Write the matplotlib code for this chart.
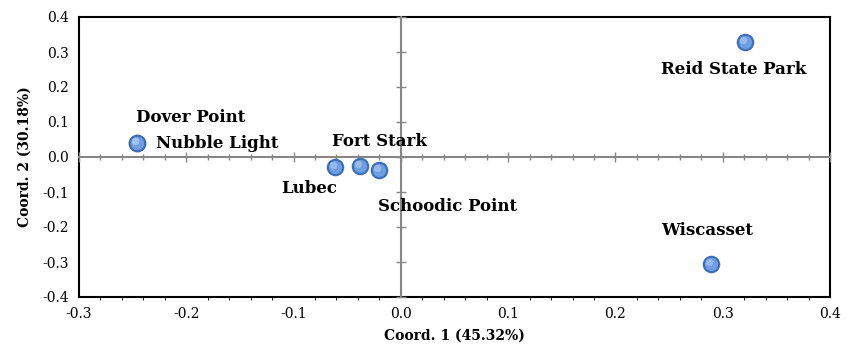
import matplotlib
matplotlib.use("Agg")
import matplotlib.pyplot as plt
from matplotlib.ticker import MultipleLocator, NullLocator

# site coordinates
sites = ["Reid State Park", "Wiscasset", "Dover Point", "Nubble Light",
         "Lubec", "Fort Stark", "Schoodic Point"]
coord1 = [0.321, 0.289, -0.246, -0.246, -0.061, -0.038, -0.020]
coord2 = [0.329, -0.306, 0.040, 0.040, -0.029, -0.026, -0.037]

# label offsets in pixels from each point, and alignment
label_pos = {
    "Reid State Park": (-12, -28, "center"),
    "Wiscasset": (-4, 34, "center"),
    "Dover Point": (-1, 25, "left"),
    "Nubble Light": (19, 0, "left"),
    "Lubec": (-54, -21, "left"),
    "Fort Stark": (-28, 25, "left"),
    "Schoodic Point": (-1, -37, "left"),
}

plt.rcParams["font.family"] = "DejaVu Serif"

fig = plt.figure(figsize=(8.56, 3.56), dpi=100)
rect = [79 / 856, 1 - 297 / 356, (830 - 79) / 856, (297 - 17) / 356]

# background axes: black frame + tick labels on the edges
ax = fig.add_axes(rect)
ax.set_xlim(-0.3, 0.4)
ax.set_ylim(-0.4, 0.4)
ax.xaxis.set_major_locator(MultipleLocator(0.1))
ax.yaxis.set_major_locator(MultipleLocator(0.1))
ax.xaxis.set_major_formatter(lambda v, p: f"{v:.1f}" if abs(v) > 1e-9 else "0.0")
ax.yaxis.set_major_formatter(lambda v, p: f"{v:.1f}" if abs(v) > 1e-9 else "0.0")
ax.tick_params(length=0, labelsize=10, pad=7)
for s in ax.spines.values():
    s.set_linewidth(1.5)
    s.set_color("black")
ax.set_xlabel("Coord. 1 (45.32%)", fontsize=10, fontweight="bold", labelpad=6)
ax.set_ylabel("Coord. 2 (30.18%)", fontsize=10, fontweight="bold", labelpad=8)

# overlay axes: grey axes crossing at zero
ax2 = fig.add_axes(rect, sharex=ax, sharey=ax)
ax2.patch.set_alpha(0)
ax2.spines["top"].set_visible(False)
ax2.spines["right"].set_visible(False)
ax2.spines["left"].set_position("zero")
ax2.spines["bottom"].set_position("zero")
for k in ["left", "bottom"]:
    ax2.spines[k].set_color("#868686")
    ax2.spines[k].set_linewidth(1.5)
ax2.xaxis.set_minor_locator(MultipleLocator(0.02))
ax2.yaxis.set_minor_locator(NullLocator())
ax2.tick_params(which="major", direction="inout", length=7.5, width=1.0, color="#868686",
                labelleft=False, labelbottom=False)
ax2.tick_params(which="minor", direction="inout", length=5, width=1.0, color="#868686")

ax2.scatter(coord1, coord2, s=160, color="#3d6fb6", zorder=3, linewidths=0)
ax2.scatter(coord1, coord2, s=90, color="#6f9ee3", zorder=4, linewidths=0)
ax2.scatter([x - 0.002 for x in coord1], [y + 0.006 for y in coord2], s=28,
            color="#a9c6f0", zorder=5, linewidths=0, alpha=0.7)

for name, x, y in zip(sites, coord1, coord2):
    dx, dy, ha = label_pos[name]
    ax2.annotate(name, (x, y), xytext=(dx, dy), textcoords="offset pixels",
                 ha=ha, va="center", fontsize=12, fontweight="bold", zorder=6)

fig.savefig("out.png", dpi=100)
